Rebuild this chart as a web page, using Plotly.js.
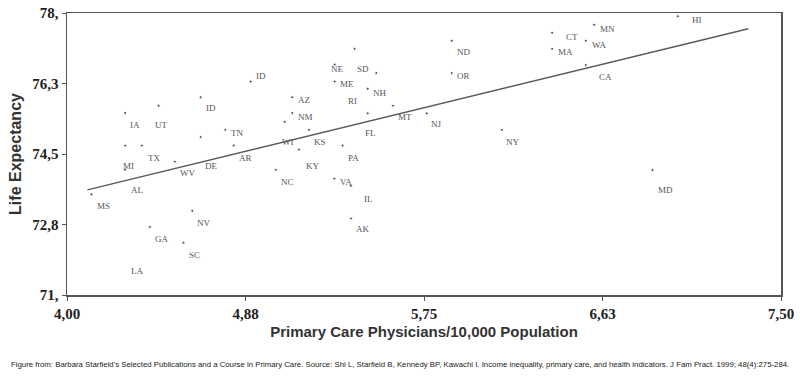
<!DOCTYPE html>
<html>
<head>
<meta charset="utf-8">
<script src="https://cdn.plot.ly/plotly-3.0.1.min.js"></script>
<style>html,body{margin:0;padding:0;background:#fff;}#chart{width:800px;height:377px;}</style>
</head>
<body>
<div id="chart"></div>
<script>
// ---- data ----
const states = ["MS","AL","MI","TX","WV","DE","AR","NC","NV","GA","SC","LA","IA","UT","ID","ID","TN","AZ","NM","WI","KS","KY","PA","VA","IL","AK","FL","NE","ME","SD","NH","RI","MT","NJ","ND","OR","NY","HI","MN","CT","WA","MA","CA","MD"];
const physicians = [4.12,4.285,4.285,4.367,4.529,4.655,4.817,5.024,4.614,4.406,4.571,4.282,4.285,4.449,4.655,4.90,4.776,5.104,5.104,5.067,5.186,5.137,5.351,5.310,5.392,5.392,5.474,5.312,5.312,5.410,5.516,5.474,5.598,5.763,5.886,5.886,6.132,6.994,6.584,6.378,6.543,6.378,6.543,6.870];
const lifeExpectancy = [73.50,74.11,74.71,74.71,74.31,74.92,74.71,74.11,73.09,72.69,72.30,71.89,75.52,75.70,75.91,76.30,75.10,75.91,75.52,75.30,75.10,74.61,74.71,73.89,73.71,72.90,75.51,76.72,76.30,77.11,76.51,76.12,75.70,75.51,77.31,76.51,75.10,77.92,77.71,77.51,77.31,77.11,76.71,74.10];
const trendX = [4.10, 7.34];
const trendY = [73.61, 77.61];
const xTickVals = [4.0, 4.875, 5.75, 6.625, 7.5];
const xTickText = ["4,00","4,88","5,75","6,63","7,50"];
const yTickVals = [71, 72.75, 74.5, 76.25, 78];
const yTickText = ["71,","72,8","74,5","76,3","78,"];
const caption = "Figure from: Barbara Starfield's Selected Publications and a Course in Primary Care. Source: Shi L, Starfield B, Kennedy BP, Kawachi I. Income inequality, primary care, and health indicators. J Fam Pract. 1999; 48(4):275-284.";

// ---- label offsets (px) and marker visibility: styling ----
const labelOffsets = [[12,12],[12,20],[3,20],[12,12],[13,11],[11,29],[12,12],[12,12],[12,12],[12,12],[11,12],[12,12],[10,12],[3,19],[10,11],[10,-5],[12,3],[12,3],[13,4],[3,20],[11,12],[14,16],[11,12],[12,3],[18,13],[12,11],[3,20],[3,4],[12,3],[8,20],[4,20],[-15,12],[12,11],[10,11],[12,11],[12,3],[11,12],[19,4],[13,4],[20,4],[13,4],[13,3],[20,12],[13,20]];
const markerSizes = states.map((s,i)=> s==="LA" ? 0 : 3);

const traces = [
  {x: trendX, y: trendY, mode: 'lines', type: 'scatter', line: {color: '#5a5a5a', width: 1.4}, hoverinfo: 'skip', showlegend: false},
  {x: physicians, y: lifeExpectancy, mode: 'markers', type: 'scatter', text: states,
   marker: {color: '#111', size: markerSizes}, showlegend: false}
];

const annotations = states.map((s,i)=>({
  x: physicians[i], y: lifeExpectancy[i], xref: 'x', yref: 'y', text: s, showarrow: false,
  xshift: labelOffsets[i][0], yshift: -labelOffsets[i][1],
  font: {family: 'Liberation Serif, Times New Roman, serif', size: 9, color: '#555'}
}));
annotations.push({
  x: 0.4664, y: -0.245, xref: 'paper', yref: 'paper', xanchor: 'center', yanchor: 'middle', text: caption, showarrow: false,
  font: {family: 'Liberation Sans, Arial, sans-serif', size: 7.8, color: '#222'}
});

const layout = {
  width: 800, height: 377,
  margin: {l: 67, r: 19, t: 13, b: 82},
  paper_bgcolor: '#fff', plot_bgcolor: '#fff',
  xaxis: {
    range: [4, 7.5], tickvals: xTickVals, ticktext: xTickText,
    showgrid: false, zeroline: false, showline: true, mirror: true, linecolor: '#555', linewidth: 1.5,
    ticks: 'outside', ticklen: 4, tickcolor: '#555',
    tickfont: {family: 'Liberation Serif, Times New Roman, serif', size: 15, color: '#222', weight: 'bold'},
    title: {text: 'Primary Care Physicians/10,000 Population', standoff: 6,
      font: {family: 'Liberation Sans, Arial, sans-serif', size: 15, color: '#333', weight: 'bold'}}
  },
  yaxis: {
    range: [71, 78], tickvals: yTickVals, ticktext: yTickText,
    showgrid: false, zeroline: false, showline: true, mirror: true, linecolor: '#555', linewidth: 1.5,
    ticks: 'outside', ticklen: 4, tickcolor: '#555',
    tickfont: {family: 'Liberation Serif, Times New Roman, serif', size: 15, color: '#222', weight: 'bold'},
    title: {text: 'Life Expectancy', standoff: 6,
      font: {family: 'Liberation Sans, Arial, sans-serif', size: 16, color: '#333', weight: 'bold'}}
  },
  annotations: annotations
};

Plotly.newPlot('chart', traces, layout, {displayModeBar: false, staticPlot: true});
</script>
</body>
</html>
